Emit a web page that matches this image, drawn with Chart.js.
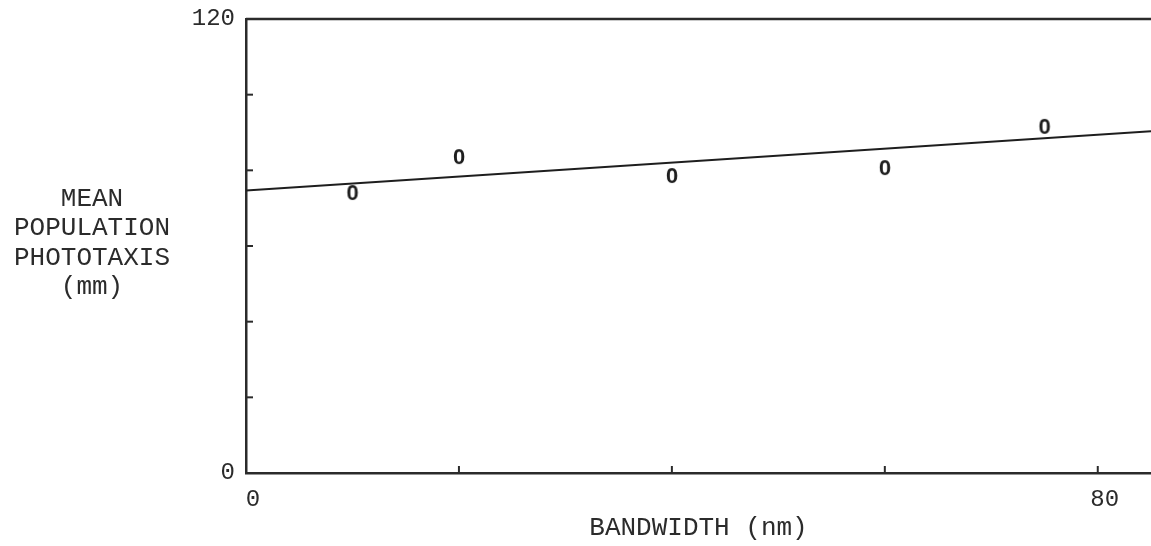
<!DOCTYPE html>
<html>
<head>
<meta charset="utf-8">
<script src="https://cdn.jsdelivr.net/npm/chart.js@4/dist/chart.umd.min.js"></script>
<style>
html,body{margin:0;padding:0;background:#fff;}
#wrap{width:1151px;height:546px;position:relative;}
</style>
</head>
<body>
<div id="wrap"><canvas id="c" width="1151" height="546"></canvas></div>
<script>
// ---- data ----
const bandwidth = [10, 20, 40, 60, 75];
const phototaxis = [74.0, 83.5, 78.5, 80.6, 91.5];
const fitX = [0, 85];
const fitY = [74.7, 90.3];
const xTickValues = [0, 20, 40, 60, 80];
const xTickLabels = ['0', '', '', '', '80'];
const yTickValues = [0, 20, 40, 60, 80, 100, 120];
const yTickLabels = ['0', '', '', '', '', '', '120'];
const xTitle = 'BANDWIDTH (nm)';
const yTitleLines = ['MEAN', 'POPULATION', 'PHOTOTAXIS', '(mm)'];

const INK = '#2b2b2b';
const MONO = '"Liberation Mono", "DejaVu Sans Mono", monospace';

// "0" glyph used as the point marker
const marker = document.createElement('canvas');
marker.width = 22; marker.height = 28;
(function(){
  const g = marker.getContext('2d');
  g.fillStyle = '#1e1e1e';
  g.font = 'bold 22px "Liberation Sans", Arial, sans-serif';
  g.textAlign = 'center';
  g.textBaseline = 'middle';
  g.fillText('0', 11, 15);
})();

const framePlugin = {
  id: 'frame',
  afterDraw(chart) {
    const ctx = chart.ctx;
    const a = chart.chartArea;
    const xs = chart.scales.x, ys = chart.scales.y;
    ctx.save();
    ctx.strokeStyle = INK;
    ctx.lineWidth = 2.5;
    ctx.beginPath();
    ctx.moveTo(a.left, a.top);
    ctx.lineTo(a.right, a.top);
    ctx.stroke();
    ctx.lineWidth = 2;
    xTickValues.forEach(v => {
      if (v === xs.min) return;
      const px = xs.getPixelForValue(v);
      ctx.beginPath(); ctx.moveTo(px, a.bottom); ctx.lineTo(px, a.bottom - 7); ctx.stroke();
    });
    yTickValues.forEach(v => {
      if (v === ys.min || v === ys.max) return;
      const py = ys.getPixelForValue(v);
      ctx.beginPath(); ctx.moveTo(a.left, py); ctx.lineTo(a.left + 7, py); ctx.stroke();
    });
    ctx.fillStyle = INK;
    ctx.font = '26px ' + MONO;
    ctx.textAlign = 'center';
    ctx.textBaseline = 'middle';
    const ys0 = 199, step = 29.5;
    yTitleLines.forEach((t, i) => ctx.fillText(t, 92, ys0 + i * step));
    ctx.restore();
  }
};

new Chart(document.getElementById('c'), {
  type: 'scatter',
  data: {
    datasets: [
      {
        type: 'line',
        data: fitX.map((x, i) => ({x: x, y: fitY[i]})),
        borderColor: '#1e1e1e',
        borderWidth: 2,
        pointRadius: 0,
        fill: false
      },
      {
        data: bandwidth.map((x, i) => ({x: x, y: phototaxis[i]})),
        pointStyle: marker,
        pointRadius: 11
      }
    ]
  },
  options: {
    responsive: false,
    animation: false,
    devicePixelRatio: 1,
    layout: { autoPadding: false, padding: { left: 192, right: 0, top: 19, bottom: 0 } },
    plugins: { legend: { display: false }, tooltip: { enabled: false } },
    scales: {
      x: {
        type: 'linear',
        min: 0, max: 85,
        afterBuildTicks: s => { s.ticks = xTickValues.map(v => ({value: v})); },
        afterFit: s => { s.height = 73; s.paddingLeft = 0; s.paddingRight = 0; },
        grid: { display: true, drawOnChartArea: false, drawTicks: false },
        border: { display: true, color: INK, width: 2.5 },
        ticks: {
          color: INK, font: { family: MONO, size: 24 }, padding: 12, labelOffset: 7,
          maxRotation: 0, autoSkip: false,
          callback: (v) => { const i = xTickValues.indexOf(v); return i >= 0 ? xTickLabels[i] : ''; }
        },
        title: { display: true, text: xTitle, color: INK, font: { family: MONO, size: 26 }, padding: { top: 4, bottom: 2 } }
      },
      y: {
        type: 'linear',
        min: 0, max: 120,
        afterBuildTicks: s => { s.ticks = yTickValues.map(v => ({value: v})); },
        afterFit: s => { s.width = 54; s.paddingTop = 0; s.paddingBottom = 0; },
        grid: { display: true, drawOnChartArea: false, drawTicks: false },
        border: { display: true, color: INK, width: 2.5 },
        ticks: {
          color: INK, font: { family: MONO, size: 24 }, padding: 11, autoSkip: false,
          callback: (v) => { const i = yTickValues.indexOf(v); return i >= 0 ? yTickLabels[i] : ''; }
        }
      }
    }
  },
  plugins: [framePlugin]
});
</script>
</body>
</html>
